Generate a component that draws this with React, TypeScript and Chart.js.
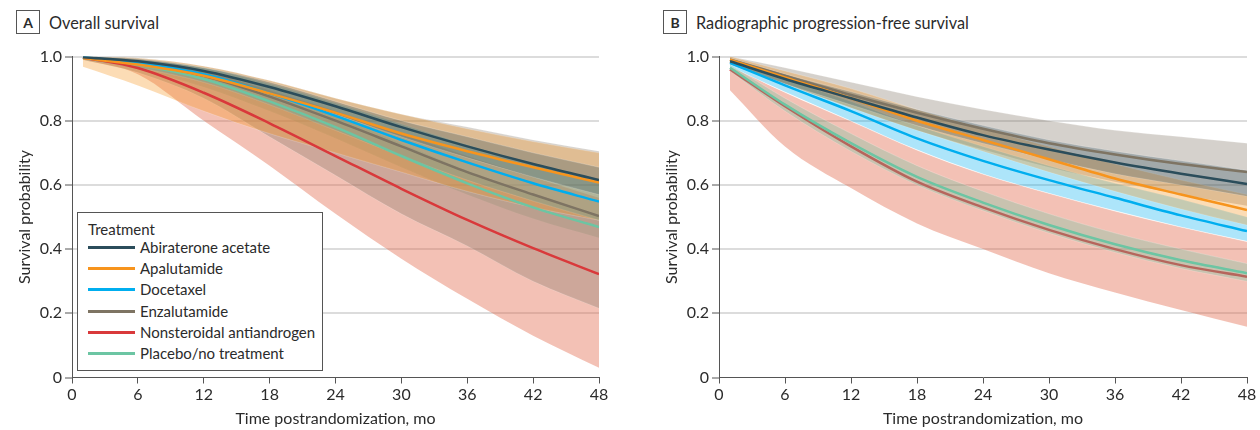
import React, { useEffect, useRef } from 'react';
import { Chart, registerables } from 'chart.js';

Chart.register(...registerables);

// ---------- Data ----------
const months = [1, 6, 12, 18, 24, 30, 36, 42, 48];
const xTickValues = [0, 6, 12, 18, 24, 30, 36, 42, 48];
const yTickValues = [0, 0.2, 0.4, 0.6, 0.8, 1.0];
const yTickLabels = ['0', '0.2', '0.4', '0.6', '0.8', '1.0'];

const treatments = [
  'Abiraterone acetate',
  'Apalutamide',
  'Docetaxel',
  'Enzalutamide',
  'Nonsteroidal antiandrogen',
  'Placebo/no treatment',
];
const lineColors = ['#2b4d5b', '#f7941d', '#00aeef', '#7e7463', '#d9393b', '#6cc5a3'];
const bandColors = [
  'rgba(43,77,91,0.30)',
  'rgba(247,148,29,0.33)',
  'rgba(0,174,239,0.32)',
  'rgba(126,116,99,0.33)',
  'rgba(226,100,70,0.40)',
  'rgba(108,197,163,0.32)',
];

// A: Overall survival (point estimates)
const osAbiraterone = [0.998, 0.985, 0.955, 0.905, 0.845, 0.78, 0.72, 0.665, 0.615];
const osApalutamide = [0.995, 0.975, 0.94, 0.885, 0.825, 0.76, 0.705, 0.655, 0.607];
const osDocetaxel = [0.998, 0.98, 0.945, 0.885, 0.815, 0.74, 0.67, 0.605, 0.548];
const osEnzalutamide = [0.998, 0.98, 0.94, 0.875, 0.8, 0.72, 0.64, 0.57, 0.503];
const osNsaa = [0.997, 0.964, 0.887, 0.792, 0.69, 0.588, 0.491, 0.403, 0.322];
const osPlacebo = [0.997, 0.975, 0.93, 0.86, 0.78, 0.69, 0.605, 0.53, 0.469];
// A: credible intervals
const osAbirateroneLow = [0.995, 0.975, 0.94, 0.885, 0.82, 0.75, 0.685, 0.625, 0.57];
const osAbirateroneHigh = [1.0, 0.993, 0.965, 0.92, 0.86, 0.8, 0.75, 0.7, 0.655];
const osApalutamideLow = [0.968, 0.91, 0.83, 0.76, 0.7, 0.64, 0.58, 0.53, 0.49];
const osApalutamideHigh = [1.0, 0.995, 0.97, 0.925, 0.87, 0.82, 0.775, 0.735, 0.7];
const osDocetaxelLow = [0.99, 0.965, 0.92, 0.85, 0.77, 0.69, 0.615, 0.55, 0.49];
const osDocetaxelHigh = [1.0, 0.99, 0.965, 0.915, 0.855, 0.79, 0.725, 0.665, 0.61];
const osEnzalutamideLow = [0.99, 0.95, 0.87, 0.75, 0.63, 0.51, 0.41, 0.3, 0.216];
const osEnzalutamideHigh = [1.0, 0.995, 0.97, 0.925, 0.87, 0.82, 0.78, 0.74, 0.705];
const osNsaaLow = [0.99, 0.945, 0.8, 0.66, 0.51, 0.37, 0.245, 0.13, 0.03];
const osNsaaHigh = [1.0, 0.99, 0.955, 0.895, 0.83, 0.76, 0.69, 0.625, 0.56];
const osPlaceboLow = [0.99, 0.96, 0.905, 0.83, 0.745, 0.655, 0.57, 0.495, 0.435];
const osPlaceboHigh = [1.0, 0.985, 0.95, 0.89, 0.815, 0.73, 0.645, 0.57, 0.505];

// B: Radiographic progression-free survival (point estimates)
const rpfsAbiraterone = [0.985, 0.93, 0.87, 0.81, 0.755, 0.71, 0.67, 0.635, 0.603];
const rpfsApalutamide = [0.99, 0.935, 0.87, 0.8, 0.74, 0.68, 0.62, 0.57, 0.522];
const rpfsDocetaxel = [0.98, 0.91, 0.83, 0.745, 0.675, 0.615, 0.56, 0.505, 0.456];
const rpfsEnzalutamide = [0.99, 0.94, 0.88, 0.825, 0.775, 0.73, 0.695, 0.665, 0.64];
const rpfsNsaa = [0.96, 0.845, 0.72, 0.61, 0.53, 0.46, 0.4, 0.35, 0.314];
const rpfsPlacebo = [0.965, 0.85, 0.73, 0.625, 0.545, 0.475, 0.415, 0.365, 0.325];
// B: credible intervals
const rpfsAbirateroneLow = [0.975, 0.915, 0.85, 0.785, 0.73, 0.68, 0.635, 0.6, 0.565];
const rpfsAbirateroneHigh = [0.995, 0.945, 0.89, 0.835, 0.785, 0.74, 0.705, 0.675, 0.645];
const rpfsApalutamideLow = [0.98, 0.915, 0.84, 0.77, 0.705, 0.64, 0.58, 0.525, 0.475];
const rpfsApalutamideHigh = [1.0, 0.955, 0.9, 0.835, 0.775, 0.72, 0.665, 0.615, 0.57];
const rpfsDocetaxelLow = [0.97, 0.89, 0.8, 0.71, 0.635, 0.575, 0.52, 0.47, 0.425];
const rpfsDocetaxelHigh = [0.99, 0.93, 0.86, 0.785, 0.72, 0.66, 0.605, 0.555, 0.5];
const rpfsEnzalutamideLow = [0.98, 0.915, 0.84, 0.77, 0.71, 0.655, 0.61, 0.57, 0.535];
const rpfsEnzalutamideHigh = [1.0, 0.965, 0.92, 0.875, 0.835, 0.8, 0.77, 0.75, 0.73];
const rpfsNsaaLow = [0.895, 0.72, 0.59, 0.48, 0.4, 0.325, 0.265, 0.21, 0.158];
const rpfsNsaaHigh = [0.97, 0.888, 0.798, 0.708, 0.633, 0.573, 0.518, 0.468, 0.423];
const rpfsPlaceboLow = [0.955, 0.83, 0.705, 0.6, 0.52, 0.45, 0.39, 0.34, 0.3];
const rpfsPlaceboHigh = [0.975, 0.87, 0.76, 0.66, 0.58, 0.51, 0.45, 0.4, 0.355];

const osLines = [osAbiraterone, osApalutamide, osDocetaxel, osEnzalutamide, osNsaa, osPlacebo];
const osLows = [osAbirateroneLow, osApalutamideLow, osDocetaxelLow, osEnzalutamideLow, osNsaaLow, osPlaceboLow];
const osHighs = [osAbirateroneHigh, osApalutamideHigh, osDocetaxelHigh, osEnzalutamideHigh, osNsaaHigh, osPlaceboHigh];
const rpfsLines = [rpfsAbiraterone, rpfsApalutamide, rpfsDocetaxel, rpfsEnzalutamide, rpfsNsaa, rpfsPlacebo];
const rpfsLows = [rpfsAbirateroneLow, rpfsApalutamideLow, rpfsDocetaxelLow, rpfsEnzalutamideLow, rpfsNsaaLow, rpfsPlaceboLow];
const rpfsHighs = [rpfsAbirateroneHigh, rpfsApalutamideHigh, rpfsDocetaxelHigh, rpfsEnzalutamideHigh, rpfsNsaaHigh, rpfsPlaceboHigh];

const FONT = 'Lato, "Open Sans", "DejaVu Sans", sans-serif';
const TEXT = '#2b2b2b';

const toPoints = (vals: number[]) => months.map((m, j) => ({ x: m, y: vals[j] }));

function makeDatasets(lines: number[][], lows: number[][], highs: number[][], lineOrder: number[], bandOrder: number[]) {
  const ds: any[] = [];
  lines.forEach((vals, i) => {
    ds.push({
      label: treatments[i],
      data: toPoints(vals),
      borderColor: lineColors[i],
      borderWidth: 2.5,
      pointRadius: 0,
      fill: false,
      cubicInterpolationMode: 'monotone',
      order: lineOrder[i],
    });
  });
  highs.forEach((hi, i) => {
    ds.push({
      label: treatments[i] + ' upper',
      data: toPoints(hi),
      borderColor: 'rgba(255,255,255,0.35)',
      borderWidth: 0.6,
      backgroundColor: bandColors[i],
      pointRadius: 0,
      fill: '+1',
      cubicInterpolationMode: 'monotone',
      order: bandOrder[i],
    });
    ds.push({
      label: treatments[i] + ' lower',
      data: toPoints(lows[i]),
      borderColor: 'rgba(255,255,255,0.35)',
      borderWidth: 0.6,
      pointRadius: 0,
      fill: false,
      cubicInterpolationMode: 'monotone',
      order: bandOrder[i],
    });
  });
  return ds;
}

function SurvivalChart(props: { datasets: any[]; width: number; height: number; padRight: number }) {
  const ref = useRef<HTMLCanvasElement | null>(null);
  useEffect(() => {
    if (!ref.current) return;
    const chart = new Chart(ref.current, {
      type: 'line',
      data: { datasets: props.datasets },
      options: {
        animation: false,
        responsive: false,
        maintainAspectRatio: false,
        layout: { padding: { top: 16.5, right: props.padRight, left: 0, bottom: 0 } },
        plugins: { legend: { display: false }, tooltip: { enabled: false } },
        scales: {
          x: {
            type: 'linear',
            min: 0,
            max: 48,
            afterBuildTicks: (s: any) => {
              s.ticks = xTickValues.map((v) => ({ value: v }));
            },
            afterFit: (s: any) => {
              s.height = 52.5;
            },
            ticks: { font: { family: FONT, size: 16 }, color: TEXT, padding: 2, maxRotation: 0, autoSkip: false },
            grid: { drawOnChartArea: false, tickLength: 6, tickColor: '#555', tickWidth: 1 },
            border: { color: '#555', width: 1 },
            title: {
              display: true,
              text: 'Time postrandomization, mo',
              font: { family: FONT, size: 16 },
              color: TEXT,
              padding: { top: 0, bottom: 2 },
            },
          },
          y: {
            type: 'linear',
            min: 0,
            max: 1,
            afterBuildTicks: (s: any) => {
              s.ticks = yTickValues.map((v) => ({ value: v }));
            },
            afterFit: (s: any) => {
              s.width = 72;
            },
            ticks: {
              font: { family: FONT, size: 16 },
              color: TEXT,
              padding: 3,
              callback: (_v: any, i: number) => yTickLabels[i],
            },
            grid: {
              color: (c: any) => (c.tick && c.tick.value === 0 ? 'rgba(0,0,0,0)' : '#dcdcdc'),
              lineWidth: 2,
              tickLength: 7,
              tickColor: '#555',
              tickWidth: 1,
            },
            border: { color: '#555', width: 1 },
            title: {
              display: true,
              text: 'Survival probability',
              font: { family: FONT, size: 16 },
              color: TEXT,
              padding: { top: 15.5, bottom: 0 },
            },
          },
        },
      } as any,
    });
    return () => chart.destroy();
  }, []);
  return <canvas ref={ref} width={props.width} height={props.height} style={{ width: props.width, height: props.height, display: 'block' }} />;
}

function PanelTitle(props: { letter: string; text: string; left: number }) {
  return (
    <div style={{ position: 'absolute', left: props.left, top: 10, display: 'flex', alignItems: 'center', fontFamily: FONT, color: TEXT }}>
      <div
        style={{
          width: 22,
          height: 22,
          border: '1px solid #555',
          display: 'flex',
          alignItems: 'center',
          justifyContent: 'center',
          fontWeight: 700,
          fontSize: 14,
          boxSizing: 'content-box',
        }}
      >
        {props.letter}
      </div>
      <div style={{ marginLeft: 9, fontSize: 16.3 }}>{props.text}</div>
    </div>
  );
}

function Legend() {
  return (
    <div
      style={{
        position: 'absolute',
        left: 77,
        top: 212,
        width: 246,
        height: 159,
        boxSizing: 'border-box',
        border: '1px solid #555',
        background: '#fff',
        fontFamily: FONT,
        color: TEXT,
        fontSize: 15,
        paddingTop: 8,
      }}
    >
      <div style={{ height: 16, lineHeight: '16px', paddingLeft: 10 }}>Treatment</div>
      {treatments.map((t, i) => (
        <div key={t} style={{ height: 21.2, display: 'flex', alignItems: 'center', paddingLeft: 10 }}>
          <div style={{ width: 47, height: 3, background: lineColors[i], marginRight: 5, flex: 'none' }} />
          <div style={{ lineHeight: '21px', whiteSpace: 'nowrap' }}>{t}</div>
        </div>
      ))}
    </div>
  );
}

export default function App() {
  const osDatasets = makeDatasets(osLines, osLows, osHighs, [0, 0, 0, 0, 0, 0], [3, 3, 3, 3, 3, 3]);
  const rpfsDatasets = makeDatasets(rpfsLines, rpfsLows, rpfsHighs, [0, 0, 0, 0, 2, 0], [3, 3, 3, 3, 3, 1]);
  return (
    <div style={{ position: 'fixed', left: 0, top: 0, width: 1260, height: 430, background: '#fff', overflow: 'hidden' }}>
      <PanelTitle letter="A" text="Overall survival" left={16} />
      <PanelTitle letter="B" text="Radiographic progression-free survival" left={663} />
      <div style={{ position: 'absolute', left: 0, top: 40 }}>
        <SurvivalChart datasets={osDatasets} width={630} height={390} padRight={31} />
      </div>
      <div style={{ position: 'absolute', left: 647, top: 40 }}>
        <SurvivalChart datasets={rpfsDatasets} width={613} height={390} padRight={13} />
      </div>
      <Legend />
    </div>
  );
}
